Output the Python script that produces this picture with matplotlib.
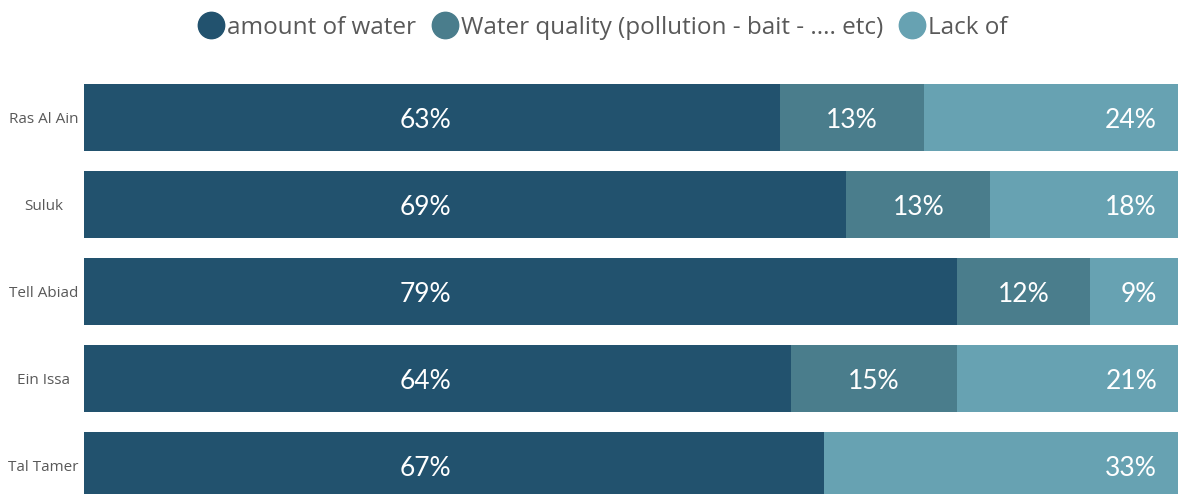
import matplotlib
matplotlib.use("Agg")
from matplotlib import pyplot as plt
from matplotlib.lines import Line2D

# Share of answers per town
towns = ['Ras Al Ain', 'Suluk', 'Tell Abiad', 'Ein Issa', 'Tal Tamer']
amount = [63, 69, 79, 64, 67]
quality = [13, 13, 12, 15, 0]
lack = [24, 18, 9, 21, 33]

series_names = ['amount of water', 'Water quality (pollution - bait - .... etc)', 'Lack of']
colors = ['#22526e', '#4a7d8c', '#67a2b2']

fig = plt.figure(figsize=(11.78, 4.94), dpi=100)
# bars area; the chart is cropped on the right and bottom like the original
ax = fig.add_axes([84 / 1178, 0, 1 - 84 / 1178, (494 - 70) / 494])

ypos = list(range(len(towns)))
bh = 0.77
ax.barh(ypos, amount, height=bh, color=colors[0])
ax.barh(ypos, quality, left=amount, height=bh, color=colors[1])
left3 = [a + q for a, q in zip(amount, quality)]
ax.barh(ypos, lack, left=left3, height=bh, color=colors[2])

ax.set_xlim(0, 99)
ax.set_ylim(4.328, -0.546)

lab_font = dict(color='white', fontsize=19, family='Lato', va='center')
for i in ypos:
    ax.text(30.9, i + 0.03, f'{amount[i]}%', ha='center', **lab_font)
    if quality[i] > 0:
        ax.text(amount[i] + quality[i] / 2, i + 0.03, f'{quality[i]}%', ha='center', **lab_font)
    ax.text(97.1, i + 0.03, f'{lack[i]}%', ha='right', **lab_font)

ax.set_yticks(ypos)
ax.set_yticklabels(towns, fontsize=11, color='#595959', family='Open Sans', ha='center')
ax.tick_params(axis='y', length=0, pad=29)
ax.set_xticks([])
for s in ax.spines.values():
    s.set_visible(False)

handles = [Line2D([], [], marker='o', linestyle='', markersize=19, color=c) for c in colors]
leg = fig.legend(handles, series_names, loc='center', bbox_to_anchor=(0.512, 1 - 28 / 494),
                 ncol=3, frameon=False, handletextpad=0.15, columnspacing=0.7,
                 handlelength=1.0, prop={'family': 'Open Sans', 'size': 17.5})
for t in leg.get_texts():
    t.set_color('#595959')

fig.savefig('out.png', dpi=100)
